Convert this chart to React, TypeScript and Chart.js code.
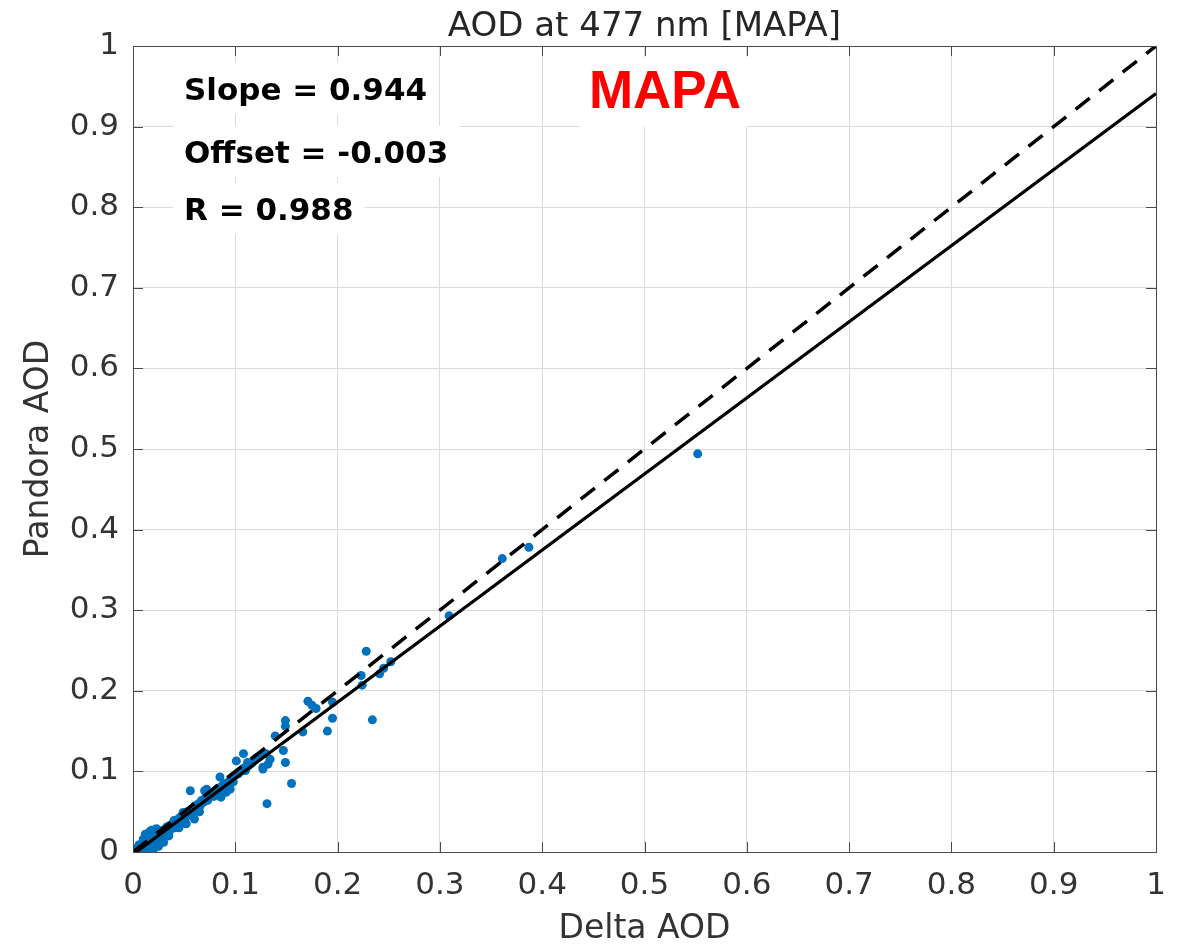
import React, { useEffect, useRef } from "react";
import { Chart, registerables } from "chart.js";

Chart.register(...registerables);

// ---- Data ----
const deltaAOD: number[] = [
  0.000, 0.003, 0.005, 0.006, 0.008, 0.010, 0.011, 0.012, 0.014, 0.015, 0.016, 0.018, 0.019, 0.020, 0.021,
  0.022, 0.024, 0.025, 0.026, 0.028, 0.029, 0.030, 0.032, 0.033, 0.035, 0.036, 0.038, 0.040, 0.041, 0.043,
  0.045, 0.046, 0.048, 0.050, 0.052, 0.053, 0.055, 0.057, 0.058, 0.060, 0.062, 0.064, 0.066, 0.067, 0.069,
  0.071, 0.073, 0.075, 0.077, 0.079, 0.081, 0.083, 0.085, 0.087, 0.089, 0.091, 0.094, 0.096, 0.098, 0.100,
  0.103, 0.105, 0.108, 0.110, 0.113, 0.116, 0.118, 0.121, 0.124, 0.012, 0.016, 0.018, 0.022, 0.006, 0.010,
  0.030, 0.035, 0.045, 0.052, 0.065, 0.086, 0.095, 0.023, 0.020, 0.025, 0.040, 0.049, 0.060, 0.056, 0.070,
  0.072, 0.075, 0.085, 0.093, 0.091, 0.101, 0.108, 0.112, 0.127, 0.132, 0.134, 0.130, 0.127, 0.131, 0.147,
  0.149, 0.155, 0.139, 0.149, 0.149, 0.166, 0.171, 0.175, 0.179, 0.190, 0.195, 0.195, 0.223, 0.224, 0.228,
  0.234, 0.241, 0.245, 0.252, 0.309, 0.361, 0.387, 0.552
];
const pandoraAOD: number[] = [
  0.004, 0.002, 0.004, 0.001, 0.006, 0.003, 0.009, 0.002, 0.011, 0.005, 0.014, 0.008, 0.016, 0.003, 0.013,
  0.019, 0.017, 0.024, 0.012, 0.021, 0.027, 0.018, 0.026, 0.031, 0.024, 0.033, 0.029, 0.035, 0.030, 0.040,
  0.036, 0.043, 0.041, 0.046, 0.044, 0.050, 0.048, 0.053, 0.045, 0.057, 0.055, 0.060, 0.058, 0.064, 0.062,
  0.068, 0.064, 0.070, 0.073, 0.069, 0.076, 0.079, 0.075, 0.082, 0.085, 0.081, 0.088, 0.091, 0.087, 0.095,
  0.097, 0.100, 0.104, 0.101, 0.107, 0.110, 0.114, 0.117, 0.119, 0.022, 0.025, 0.027, 0.028, 0.009, 0.016,
  0.012, 0.020, 0.030, 0.035, 0.050, 0.068, 0.078, 0.029, 0.021, 0.007, 0.039, 0.049, 0.041, 0.076, 0.076,
  0.078, 0.072, 0.093, 0.086, 0.074, 0.113, 0.122, 0.111, 0.103, 0.109, 0.115, 0.122, 0.105, 0.060, 0.126,
  0.111, 0.085, 0.144, 0.163, 0.156, 0.149, 0.187, 0.182, 0.178, 0.150, 0.186, 0.166, 0.219, 0.207, 0.249,
  0.164, 0.221, 0.228, 0.236, 0.293, 0.364, 0.378, 0.494
];
const fitLineX: number[] = [0, 1];
const fitLineY: number[] = [-0.003, 0.941];
const oneToOneX: number[] = [0, 1];
const oneToOneY: number[] = [0, 1];
const tickValues: number[] = [0, 0.1, 0.2, 0.3, 0.4, 0.5, 0.6, 0.7, 0.8, 0.9, 1];
const tickLabels: string[] = ["0", "0.1", "0.2", "0.3", "0.4", "0.5", "0.6", "0.7", "0.8", "0.9", "1"];
const chartTitle = "AOD at 477 nm [MAPA]";
const statLines: string[] = ["Slope = 0.944", "Offset = -0.003", "R = 0.988"];
const siteLabel = "MAPA";

const FONT = "'DejaVu Sans', Verdana, sans-serif";

export default function App() {
  const ref = useRef<HTMLCanvasElement | null>(null);

  useEffect(() => {
    if (!ref.current) return;

    const decorPlugin = {
      id: "decor",
      beforeDatasetsDraw(chart: any) {
        const { ctx, chartArea } = chart;
        ctx.save();
        // stats text with white backgrounds
        ctx.font = `bold 31px ${FONT}`;
        const baselines = [100, 163, 220];
        const tx = 184;
        statLines.forEach((s, i) => {
          const w = ctx.measureText(s).width;
          const b = baselines[i];
          ctx.fillStyle = "#ffffff";
          ctx.fillRect(tx - 11, b - 37, w + 22, 51);
        });
        statLines.forEach((s, i) => {
          ctx.fillStyle = "#000000";
          ctx.textAlign = "left";
          ctx.textBaseline = "alphabetic";
          ctx.fillText(s, tx, baselines[i]);
        });
        // MAPA label
        ctx.fillStyle = "#ffffff";
        ctx.fillRect(580, 57, 167, 70);
        ctx.font = `bold 53px 'Liberation Sans', Arial, sans-serif`;
        ctx.fillStyle = "#ff0000";
        ctx.textAlign = "center";
        ctx.fillText(siteLabel, 665, 108);
        ctx.restore();
      },
      afterDraw(chart: any) {
        const { ctx, chartArea, scales } = chart;
        const { left, right, top, bottom } = chartArea;
        ctx.save();
        ctx.strokeStyle = "#4a4a4a";
        ctx.lineWidth = 1;
        ctx.beginPath();
        tickValues.forEach((v) => {
          const x = Math.round(scales.x.getPixelForValue(v)) + 0.5;
          ctx.moveTo(x, bottom);
          ctx.lineTo(x, bottom - 10);
          ctx.moveTo(x, top);
          ctx.lineTo(x, top + 10);
          const y = Math.round(scales.y.getPixelForValue(v)) + 0.5;
          ctx.moveTo(left, y);
          ctx.lineTo(left + 10, y);
          ctx.moveTo(right, y);
          ctx.lineTo(right - 10, y);
        });
        ctx.stroke();
        ctx.strokeRect(Math.round(left) + 0.5, Math.round(top) + 0.5, Math.round(right - left), Math.round(bottom - top));
        // title
        ctx.font = `34px ${FONT}`;
        ctx.fillStyle = "#262626";
        ctx.textAlign = "center";
        ctx.textBaseline = "alphabetic";
        ctx.fillText(chartTitle, (left + right) / 2, 36);
        ctx.restore();
      },
    };

    const chart = new Chart(ref.current, {
      type: "scatter",
      data: {
        datasets: [
          {
            type: "line",
            label: "fit",
            data: fitLineX.map((x, i) => ({ x, y: fitLineY[i] })),
            borderColor: "#000000",
            borderWidth: 3.2,
            pointRadius: 0,
            showLine: true,
            fill: false,
            clip: 0,
            order: 0,
          } as any,
          {
            type: "line",
            label: "1:1",
            data: oneToOneX.map((x, i) => ({ x, y: oneToOneY[i] })),
            borderColor: "#000000",
            borderWidth: 3.5,
            borderDash: [18, 12],
            pointRadius: 0,
            showLine: true,
            fill: false,
            clip: 0,
            order: 0,
          } as any,
          {
            label: "data",
            data: deltaAOD.map((x, i) => ({ x, y: pandoraAOD[i] })),
            backgroundColor: "#0072BD",
            borderWidth: 0,
            pointRadius: 4.5,
            order: 1,
          },
        ],
      },
      options: {
        responsive: false,
        animation: false,
        events: [],
        layout: { padding: { top: 46, right: 31, left: 0, bottom: 0 } },
        plugins: {
          legend: { display: false },
          tooltip: { enabled: false },
          title: { display: false },
        },
        scales: {
          x: {
            type: "linear",
            min: 0,
            max: 1,
            afterBuildTicks: (s: any) => {
              s.ticks = tickValues.map((v) => ({ value: v }));
            },
            afterFit: (s: any) => {
              s.height = 96;
            },
            ticks: {
              autoSkip: false,
              maxRotation: 0,
              padding: 15,
              color: "#333333",
              font: { family: FONT, size: 31 },
              callback: (_v: any, i: number) => tickLabels[i],
            },
            grid: { color: "#dcdcdc", drawTicks: false, lineWidth: 1 },
            border: { display: true, color: "#4a4a4a" },
            title: {
              display: true,
              text: "Delta AOD",
              color: "#333333",
              font: { family: FONT, size: 33, lineHeight: 1.1 },
              padding: { top: 0, bottom: 0 },
            },
          },
          y: {
            type: "linear",
            min: 0,
            max: 1,
            afterBuildTicks: (s: any) => {
              s.ticks = tickValues.map((v) => ({ value: v }));
            },
            afterFit: (s: any) => {
              s.width = 133;
            },
            ticks: {
              autoSkip: false,
              padding: 14,
              color: "#333333",
              font: { family: FONT, size: 31 },
              callback: (_v: any, i: number) => tickLabels[i],
            },
            grid: { color: "#dcdcdc", drawTicks: false, lineWidth: 1 },
            border: { display: true, color: "#4a4a4a" },
            title: {
              display: true,
              text: "Pandora AOD",
              color: "#333333",
              font: { family: FONT, size: 33, lineHeight: 1.1 },
              padding: { top: 21, bottom: 0 },
            },
          },
        },
      },
      plugins: [decorPlugin],
    });

    return () => chart.destroy();
  }, []);

  return (
    <div style={{ position: "absolute", left: 0, top: 0, width: 1187, height: 948, background: "#ffffff" }}>
      <canvas ref={ref} width={1187} height={948} style={{ display: "block" }} />
    </div>
  );
}
